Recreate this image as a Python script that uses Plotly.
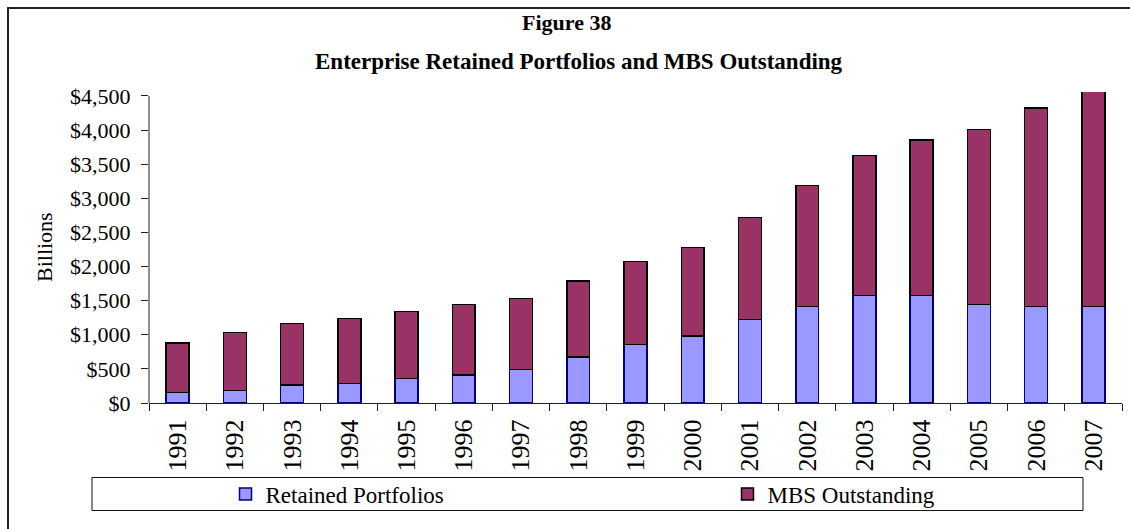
import plotly.graph_objects as go

# Enterprise retained portfolios and MBS outstanding, $ billions
years = ["1991", "1992", "1993", "1994", "1995", "1996", "1997", "1998", "1999",
         "2000", "2001", "2002", "2003", "2004", "2005", "2006", "2007"]
retained = [156, 181, 264, 288, 357, 410, 489, 674, 855,
            982, 1221, 1417, 1578, 1578, 1446, 1417, 1417]
mbs = [724, 855, 899, 953, 987, 1036, 1040, 1114, 1217,
       1300, 1501, 1769, 2048, 2277, 2566, 2907, 3200]
y_ticks = [0, 500, 1000, 1500, 2000, 2500, 3000, 3500, 4000, 4500]
y_tick_labels = ["$0", "$500", "$1,000", "$1,500", "$2,000", "$2,500",
                 "$3,000", "$3,500", "$4,000", "$4,500"]

FONT = "Liberation Serif"

W, H = 1130, 529
L, R, T, B = 149, 8, 92, 126
PW, PH = W - L - R, H - T - B


def px(x):
    return (x - L) / PW


def py(y):
    return (H - B - y) / PH


fig = go.Figure()
fig.add_trace(go.Bar(
    x=years, y=retained, name="Retained Portfolios",
    marker=dict(color="#9999FF", line=dict(color="#000080", width=1.5)),
    width=0.4, legend="legend",
))
fig.add_trace(go.Bar(
    x=years, y=mbs, name="MBS Outstanding",
    marker=dict(color="#993366", line=dict(color="#000000", width=1.5)),
    width=0.4, legend="legend2",
))

shapes = [
    # outer frame
    dict(type="rect", xref="paper", yref="paper",
         x0=px(8), x1=px(1170), y0=py(560), y1=py(8),
         line=dict(color="#222222", width=2), fillcolor="rgba(0,0,0,0)", layer="below"),
    # legend box
    dict(type="rect", xref="paper", yref="paper",
         x0=px(92), x1=px(1083), y0=py(510.5), y1=py(477.5),
         line=dict(color="#111111", width=1), fillcolor="rgba(0,0,0,0)"),
    # value axis line
    dict(type="line", xref="paper", yref="y", x0=0, x1=0, y0=0, y1=y_ticks[-1],
         line=dict(color="#222222", width=1)),
]

annotations = [
    dict(text="<b>Figure 38</b>", xref="paper", yref="paper",
         x=px(566), y=py(22), showarrow=False, xanchor="center", yanchor="middle",
         font=dict(family=FONT, size=22, color="#000000")),
    dict(text="<b>Enterprise Retained Portfolios and MBS Outstanding</b>",
         xref="paper", yref="paper", x=px(579), y=py(61), showarrow=False,
         xanchor="center", yanchor="middle",
         font=dict(family=FONT, size=23, color="#000000")),
    dict(text="Billions", xref="paper", yref="paper", x=px(44), y=py(247),
         showarrow=False, textangle=-90, xanchor="center", yanchor="middle",
         font=dict(family=FONT, size=22, color="#000000")),
]

fig.update_layout(
    width=W, height=H,
    margin=dict(l=L, r=R, t=T, b=B, pad=0),
    paper_bgcolor="#FFFFFF", plot_bgcolor="#FFFFFF",
    barmode="stack",
    showlegend=True,
    font=dict(family=FONT, color="#000000"),
    xaxis=dict(
        type="category", tickangle=-90, tickson="boundaries",
        ticks="outside", ticklen=7, tickcolor="#222222",
        showline=True, linecolor="#222222", linewidth=1,
        showgrid=False, zeroline=False, ticklabelstandoff=5,
        tickfont=dict(family=FONT, size=26, color="#000000"),
        range=[-0.5, len(years) - 0.5],
    ),
    yaxis=dict(
        range=[0, 4558], tickmode="array", tickvals=y_ticks, ticktext=y_tick_labels,
        ticks="outside", ticklen=7, tickcolor="#222222",
        showline=False, showgrid=False, zeroline=False, ticklabelstandoff=6,
        tickfont=dict(family=FONT, size=22, color="#000000"),
    ),
    legend=dict(
        x=px(225.5), y=py(494), xanchor="left", yanchor="middle",
        bgcolor="rgba(0,0,0,0)", borderwidth=0,
        font=dict(family=FONT, size=23, color="#000000"),
    ),
    legend2=dict(
        x=px(727.5), y=py(494), xanchor="left", yanchor="middle",
        bgcolor="rgba(0,0,0,0)", borderwidth=0,
        font=dict(family=FONT, size=23, color="#000000"),
    ),
    shapes=shapes,
    annotations=annotations,
)

fig.write_html("out.html")
